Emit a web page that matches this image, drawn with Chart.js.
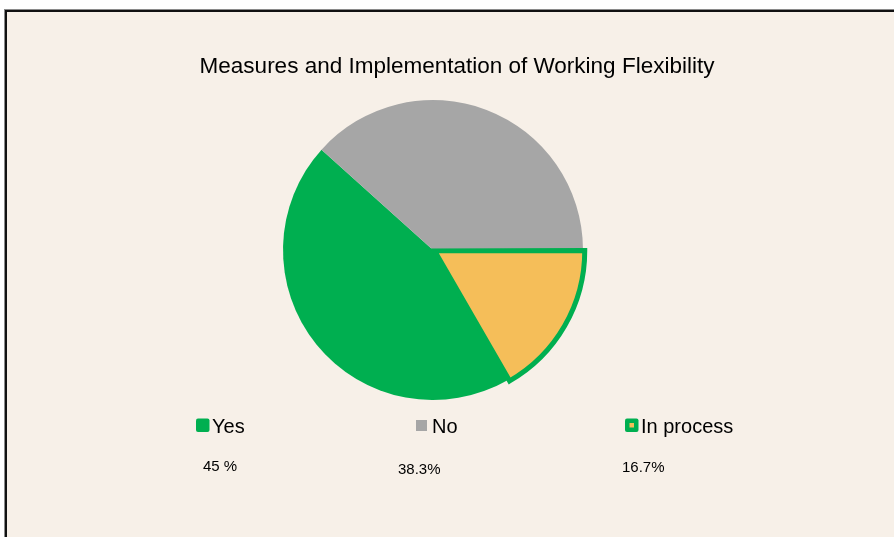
<!DOCTYPE html>
<html>
<head>
<meta charset="utf-8">
<script src="https://cdn.jsdelivr.net/npm/chart.js@4/dist/chart.umd.min.js"></script>
<style>
  html, body { margin: 0; padding: 0; background: #ffffff; width: 894px; height: 537px; overflow: hidden; }
  #frame { position: absolute; left: 5px; top: 10px; width: 900px; height: 540px;
           border-left: 2px solid #111; border-top: 2px solid #111;
           box-shadow: -1px -1px 0 0 #8a8a8a; background: #F7F0E8; }
  #c { position: absolute; left: 0; top: 0; }
</style>
</head>
<body>
<div id="frame"></div>
<canvas id="c" width="894" height="537"></canvas>
<script>
const chartTitle = "Measures and Implementation of Working Flexibility";
const categories = ["Yes", "No", "In process"];
const values = [45, 38.3, 16.7];
const valueLabels = ["45 %", "38.3%", "16.7%"];
const sliceColors = ["#00AF50", "#A6A6A6", "#F5BE59"];

const FONT = '"Liberation Sans", Arial, Helvetica, sans-serif';

const textPlugin = {
  id: 'textPlugin',
  afterDraw(chart) {
    const ctx = chart.ctx;
    ctx.save();
    ctx.fillStyle = '#000';
    ctx.textBaseline = 'alphabetic';
    // title
    ctx.font = '22.5px ' + FONT;
    ctx.textAlign = 'center';
    ctx.fillText(chartTitle, 457, 73);

    // legend
    const legendX = [196, 416, 625];
    const valueX = [203, 398, 622];
    const valueY = [471, 474, 472];
    ctx.textAlign = 'left';
    categories.forEach((cat, i) => {
      const x = legendX[i];
      if (i === 0) {
        ctx.fillStyle = sliceColors[0];
        ctx.beginPath();
        ctx.roundRect(x, 418.5, 13.5, 13.5, 2);
        ctx.fill();
      } else if (i === 1) {
        ctx.fillStyle = sliceColors[1];
        ctx.fillRect(x, 420, 11, 11);
      } else {
        ctx.fillStyle = sliceColors[0];
        ctx.beginPath();
        ctx.roundRect(x, 418.5, 13.5, 13.5, 2);
        ctx.fill();
        ctx.fillStyle = sliceColors[2];
        ctx.fillRect(x + 4.5, 423, 4.5, 4.5);
      }
      ctx.fillStyle = '#000';
      ctx.font = '20px ' + FONT;
      ctx.fillText(cat, x + 16, 433);
      ctx.font = '15px ' + FONT;
      ctx.fillText(valueLabels[i], valueX[i], valueY[i]);
    });
    ctx.restore();
  }
};

new Chart(document.getElementById('c'), {
  type: 'pie',
  data: {
    labels: categories,
    datasets: [{
      data: values,
      backgroundColor: sliceColors,
      borderColor: ["#00AF50", "#A6A6A6", "#00AF50"],
      borderWidth: [0, 0, 5],
      borderJoinStyle: 'miter',
      offset: [0, 0, 7]
    }]
  },
  options: {
    responsive: false,
    animation: false,
    rotation: 150,
    radius: 150,
    layout: { padding: { left: 0, right: 28, top: 0, bottom: 37 } },
    plugins: {
      legend: { display: false },
      title: { display: false },
      tooltip: { enabled: false }
    }
  },
  plugins: [textPlugin]
});
</script>
</body>
</html>
